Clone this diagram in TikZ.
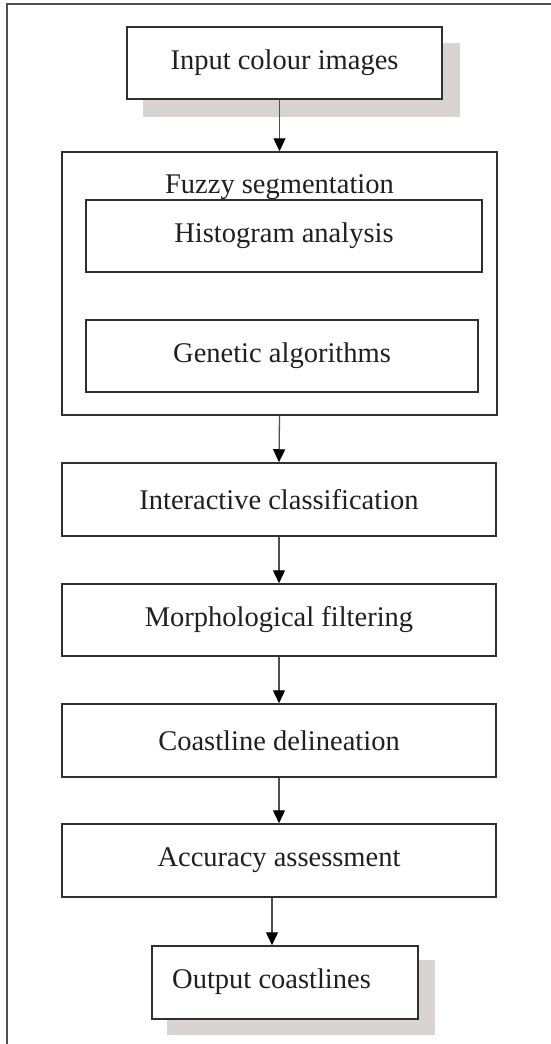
\documentclass[tikz,border=0pt]{standalone}
\usepackage{fontspec}
\setmainfont{Liberation Serif}
\usetikzlibrary{arrows.meta,backgrounds}
\definecolor{shadowc}{HTML}{D9D3D1}
\definecolor{edgec}{HTML}{303030}
\definecolor{arrc}{HTML}{505050}
\definecolor{framec}{HTML}{505050}
\definecolor{txtc}{HTML}{202020}
\tikzset{
  box/.style={draw=edgec, line width=1.5pt, fill=white, rectangle, inner sep=0pt,
    text=txtc, font=\fontsize{28.5}{32}\selectfont},
  lbl/.style={inner sep=0pt, text=txtc, font=\fontsize{28.5}{32}\selectfont},
  arr/.style={draw=arrc, line width=1.3pt, -{Triangle[width=12pt,length=13pt,fill=black,color=black]}},
  shad/.style={fill=shadowc},
  framel/.style={draw=framec, line width=1.3pt}
}
\begin{document}
\begin{tikzpicture}[x=1pt,y=-1pt]
\useasboundingbox (0,0) rectangle (551,1044);
\draw[framel] (7,1044) -- (7,4) -- (551,4);

\node[box, minimum width=315pt, minimum height=72pt] (input) at (284.5,63) {Input colour images};
\node[box, minimum width=435pt, minimum height=263pt] (fuzzy) at (279.5,283.5) {};
\node[lbl, anchor=base] (fuzzyt) at (279.5,193) {Fuzzy segmentation};
\node[box, minimum width=396pt, minimum height=72pt] (hist) at (284,236) {Histogram analysis};
\node[box, minimum width=392pt, minimum height=72pt] (gen) at (282,356) {Genetic algorithms};
\node[box, minimum width=434pt, minimum height=73pt] (inter) at (279,499.5) {Interactive classification};
\node[box, minimum width=434pt, minimum height=72pt] (morph) at (279,620) {Morphological filtering};
\node[box, minimum width=434pt, minimum height=73pt] (coast) at (279,740.5) {Coastline delineation};
\node[box, minimum width=434pt, minimum height=73pt] (acc) at (279,860.5) {Accuracy assessment};
\node[box, minimum width=266pt, minimum height=73pt] (out) at (285,982.5) {};
\node[lbl, anchor=base west] (outt) at (172,988) {Output coastlines};

\begin{pgfonlayer}{background}
  \fill[white] (0,0) rectangle (551,1044);
  \fill[shad] ([shift={(17,17)}]input.north west) rectangle ([shift={(17,17)}]input.south east);
  \fill[shad] ([shift={(16,15)}]out.north west) rectangle ([shift={(16,15)}]out.south east);
\end{pgfonlayer}

\draw[arr] (input.south -| fuzzy.north) -- (fuzzy.north);
\draw[arr] (fuzzy.south) -- (inter.north);
\draw[arr] (inter.south) -- (morph.north);
\draw[arr] (morph.south) -- (coast.north);
\draw[arr] (coast.south) -- (acc.north);
\draw[arr] ([xshift=-7pt]acc.south) -- ([xshift=-7pt]acc.south |- out.north);
\end{tikzpicture}
\end{document}
